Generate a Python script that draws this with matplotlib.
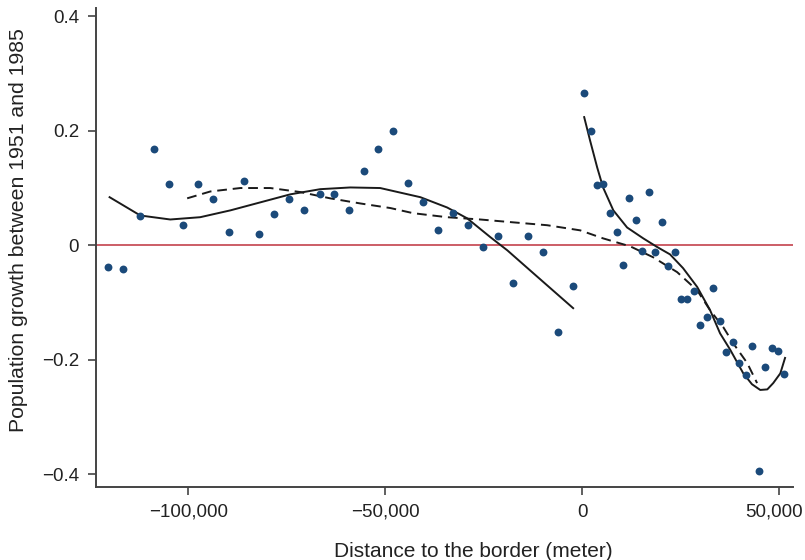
import numpy as np
import matplotlib
matplotlib.use('Agg')
from matplotlib import pyplot as plt
from matplotlib.ticker import FixedLocator
import matplotlib.transforms as mtransforms

# scatter points (distance in meter, growth)
dist = [-120300, -116500, -112400, -108600, -104800, -101300, -97500, -93700,
        -89600, -85800, -82000, -78200, -74400, -70600, -66700, -62900,
        -59100, -55300, -51800, -48000, -44200, -40400, -36500, -32700,
        -28900, -25100, -21300, -17500, -13700, -9900, -6100, -2300,
        500, 2300, 3800, 5300, 7100, 8900, 10400, 11900, 13700, 15200,
        17000, 18500, 20300, 21800, 23600, 25100, 26600, 28400, 29900,
        31700, 33200, 35000, 36500, 38300, 39800, 41600, 43100, 44900,
        46400, 48200, 49700, 51300]
growth = [-0.038, -0.042, 0.051, 0.169, 0.107, 0.035, 0.107, 0.080,
          0.024, 0.112, 0.019, 0.054, 0.080, 0.061, 0.089, 0.089,
          0.061, 0.129, 0.168, 0.199, 0.108, 0.075, 0.026, 0.056,
          0.035, -0.003, 0.016, -0.066, 0.016, -0.012, -0.152, -0.072,
          0.267, 0.199, 0.105, 0.107, 0.056, 0.023, -0.035, 0.082, 0.044, -0.010,
          0.093, -0.012, 0.040, -0.037, -0.012, -0.094, -0.094, -0.080, -0.140,
          -0.126, -0.075, -0.133, -0.187, -0.169, -0.206, -0.227, -0.176, -0.395,
          -0.213, -0.180, -0.185, -0.225]

# polynomial fit, west of the border
fit_w_x = [-120000, -112200, -104600, -97000, -89300, -81700, -74100, -66500,
           -58900, -51300, -41100, -34300, -29200, -23300, -19000, -12400, -2300]
fit_w_y = [0.084, 0.052, 0.045, 0.049, 0.061, 0.075, 0.089, 0.098,
           0.101, 0.100, 0.084, 0.066, 0.047, 0.014, -0.009, -0.049, -0.110]

# polynomial fit, east of the border
fit_e_x = [500, 2000, 3800, 5300, 7900, 11400, 15500, 19000, 22300, 25600,
           29200, 32500, 35000, 37600, 40900, 43100, 45200, 47000, 48500,
           50300, 51500]
fit_e_y = [0.224, 0.183, 0.136, 0.101, 0.061, 0.031, 0.012, -0.003, -0.016,
           -0.040, -0.073, -0.114, -0.154, -0.183, -0.224, -0.243, -0.253,
           -0.252, -0.241, -0.224, -0.197]

# smooth fit over the whole range (dashed)
fit_all_x = [-100300, -94400, -86800, -79200, -71600, -64000, -56300, -48700,
             -42900, -34300, -25900, -17500, -8900, -500, 5300, 12200, 18000,
             24100, 29200, 32500, 35800, 38300, 41900, 44400]
fit_all_y = [0.082, 0.094, 0.100, 0.100, 0.093, 0.082, 0.073, 0.065,
             0.056, 0.049, 0.045, 0.040, 0.035, 0.026, 0.012, -0.002, -0.021,
             -0.047, -0.079, -0.114, -0.143, -0.171, -0.206, -0.241]

xticks = [-100000, -50000, 0, 50000]
xlabels = ['\u2212100,000', '\u221250,000', '0', '50,000']
yticks = [0.4, 0.2, 0, -0.2, -0.4]
ylabels = ['0.4', '0.2', '0', '\u22120.2', '\u22120.4']

plt.rcParams['font.family'] = ['Liberation Sans', 'DejaVu Sans']

fig = plt.figure(figsize=(8.05, 5.6), dpi=100)
ax = fig.add_axes([0.119, 0.130, 0.866, 0.856])

ax.axhline(0, color='#c8505a', lw=1.3, zorder=1)
ax.scatter(dist, growth, s=32, color='#1b4a7a', zorder=3, linewidths=0)
ax.plot(fit_w_x, fit_w_y, color='#1a1a1a', lw=1.4, zorder=2)
ax.plot(fit_e_x, fit_e_y, color='#1a1a1a', lw=1.4, zorder=2)
ax.plot(fit_all_x, fit_all_y, color='#1a1a1a', lw=1.4, ls=(0, (5, 3)), zorder=2)

ax.set_xlim(-123500, 53500)
ax.set_ylim(-0.423, 0.415)

ax.xaxis.set_major_locator(FixedLocator(xticks))
ax.set_xticklabels(xlabels)
ax.yaxis.set_major_locator(FixedLocator(yticks))
ax.set_yticklabels(ylabels)

for side in ['top', 'right']:
    ax.spines[side].set_visible(False)
for side in ['left', 'bottom']:
    ax.spines[side].set_color('#444444')
    ax.spines[side].set_linewidth(1.4)

ax.tick_params(axis='both', length=6, width=1.2, color='#444444',
               labelsize=13.5, labelcolor='#222222', pad=6)

# last x label sits a little to the left so it stays inside the picture
last = ax.get_xticklabels()[-1]
last.set_transform(last.get_transform() +
                   mtransforms.ScaledTranslation(-4 / 72, 0, fig.dpi_scale_trans))

ax.set_xlabel('Distance to the border (meter)', fontsize=15, color='#222222')
ax.set_ylabel('Population growth between 1951 and 1985', fontsize=15.3, color='#222222')
ax.xaxis.set_label_coords(0.541, -0.115)
ax.yaxis.set_label_coords(-0.097, 0.537)

fig.savefig('out.png', dpi=100)
